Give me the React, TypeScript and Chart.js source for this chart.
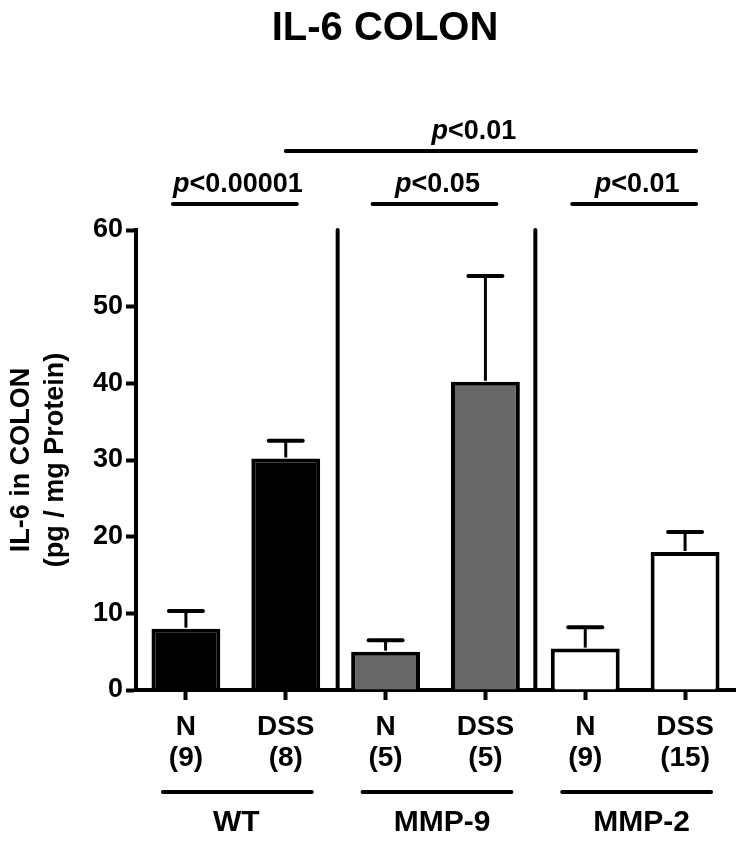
import React, { useEffect, useRef } from 'react';
import { Chart, registerables } from 'chart.js';

Chart.register(...registerables);

// ---- data ----
const chartTitle = 'IL-6 COLON';
const categoryLabels: string[][] = [
  ['N', '(9)'],
  ['DSS', '(8)'],
  ['N', '(5)'],
  ['DSS', '(5)'],
  ['N', '(9)'],
  ['DSS', '(15)'],
];
const means = [8.0, 30.2, 5.0, 40.2, 5.4, 18.0];
const sems = [2.3, 2.3, 1.5, 13.8, 2.8, 2.6];
const barColors = ['#000000', '#000000', '#686868', '#686868', '#ffffff', '#ffffff'];
const groupLabels = ['WT', 'MMP-9', 'MMP-2'];
const groupFirst = [0, 2, 4];
const groupLast = [1, 3, 5];
const sigTexts = ['<0.00001', '<0.05', '<0.01', '<0.01'];
const sigFrom = [0, 2, 4, 1];
const sigTo = [1, 3, 5, 5];
const sigRow = [0, 0, 0, 1];
const separatorsAt = [1.52, 3.5];
const yMin = 0;
const yMax = 60;
const yStep = 10;

const FONT = '"Liberation Sans", Arial, Helvetica, sans-serif';

const annotations = {
  id: 'annotations',
  afterDatasetsDraw(chart: any) {
    const ctx = chart.ctx as CanvasRenderingContext2D;
    const x = chart.scales.x;
    const y = chart.scales.y;
    const area = chart.chartArea;
    ctx.save();
    ctx.strokeStyle = '#000';
    ctx.fillStyle = '#000';

    // title
    ctx.font = `bold 40px ${FONT}`;
    ctx.textAlign = 'center';
    ctx.textBaseline = 'middle';
    ctx.fillText(chartTitle, 385, 29);

    // vertical separators
    ctx.lineWidth = 4;
    ctx.lineCap = 'round';
    separatorsAt.forEach((s) => {
      const px = x.getPixelForValue(s);
      ctx.beginPath();
      ctx.moveTo(px, y.getPixelForValue(yMax));
      ctx.lineTo(px, y.getPixelForValue(yMin));
      ctx.stroke();
    });

    // error bars
    const meta = chart.getDatasetMeta(0);
    meta.data.forEach((bar: any, i: number) => {
      const top = y.getPixelForValue(means[i]);
      const end = y.getPixelForValue(means[i] + sems[i]);
      ctx.lineCap = 'butt';
      ctx.lineWidth = 3;
      ctx.beginPath();
      ctx.moveTo(bar.x, top - 1);
      ctx.lineTo(bar.x, end);
      ctx.stroke();
      ctx.lineWidth = 4;
      ctx.lineCap = 'round';
      ctx.beginPath();
      ctx.moveTo(bar.x - 17, end);
      ctx.lineTo(bar.x + 17, end);
      ctx.stroke();
    });

    // significance lines
    ctx.lineWidth = 4;
    ctx.lineCap = 'round';
    sigTexts.forEach((t, i) => {
      const top = sigRow[i] === 1;
      const x1 = x.getPixelForValue(sigFrom[i]) - (top ? 0 : 13);
      const x2 = x.getPixelForValue(sigTo[i]) + 11;
      const ly = area.top - 26 - sigRow[i] * 53;
      ctx.beginPath();
      ctx.moveTo(x1, ly);
      ctx.lineTo(x2, ly);
      ctx.stroke();
      const pFont = `italic bold 27px ${FONT}`;
      const rFont = `bold 27px ${FONT}`;
      ctx.font = pFont;
      const wp = ctx.measureText('p').width;
      ctx.font = rFont;
      const wr = ctx.measureText(t).width;
      const cx = (x1 + x2) / 2 + (top ? -17 : 3);
      const start = cx - (wp + wr) / 2;
      ctx.textBaseline = 'alphabetic';
      ctx.textAlign = 'left';
      const ty = ly - 12;
      ctx.font = pFont;
      ctx.fillText('p', start, ty);
      ctx.font = rFont;
      ctx.fillText(t, start + wp, ty);
    });

    // group lines and labels
    groupLabels.forEach((g, i) => {
      const x1 = x.getPixelForValue(groupFirst[i]) - 23;
      const x2 = x.getPixelForValue(groupLast[i]) + 26;
      const ly = area.bottom + 102;
      ctx.lineWidth = 4;
      ctx.lineCap = 'round';
      ctx.beginPath();
      ctx.moveTo(x1, ly);
      ctx.lineTo(x2, ly);
      ctx.stroke();
      ctx.font = `bold 30px ${FONT}`;
      ctx.textAlign = 'center';
      ctx.textBaseline = 'middle';
      ctx.fillText(g, (x1 + x2) / 2 + (i === 0 ? -1 : 5), ly + 31);
    });
    ctx.restore();
  },
};

export default function App() {
  const ref = useRef<HTMLCanvasElement | null>(null);
  useEffect(() => {
    if (!ref.current) return;
    Chart.defaults.font.family = FONT;
    const chart = new Chart(ref.current, {
      type: 'bar',
      data: {
        labels: categoryLabels as any,
        datasets: [
          {
            data: means,
            backgroundColor: barColors,
            borderColor: '#000000',
            borderWidth: 4,
            barPercentage: 0.69,
            categoryPercentage: 1,
          },
        ],
      },
      options: {
        responsive: false,
        animation: false,
        events: [],
        layout: { padding: { left: 0, right: 15, top: 230, bottom: 0 } },
        plugins: {
          legend: { display: false },
          tooltip: { enabled: false },
          title: { display: false },
        },
        scales: {
          x: {
            offset: true,
            grid: {
              offset: false,
              drawOnChartArea: false,
              drawTicks: true,
              tickLength: 10,
              tickWidth: 4,
              tickColor: '#000',
            },
            border: { display: true, width: 4, color: '#000' },
            ticks: {
              color: '#000',
              font: { size: 28, weight: 'bold', family: FONT, lineHeight: 1.1 },
              padding: 12,
              maxRotation: 0,
              autoSkip: false,
            },
            afterFit: (s: any) => {
              s.height = 157;
            },
          },
          y: {
            min: yMin,
            max: yMax,
            grid: {
              drawOnChartArea: false,
              drawTicks: true,
              tickLength: 10,
              tickWidth: 4,
              tickColor: '#000',
            },
            border: { display: true, width: 4, color: '#000' },
            ticks: {
              stepSize: yStep,
              color: '#000',
              font: { size: 27, weight: 'bold', family: FONT },
              padding: 3,
            },
            title: {
              display: true,
              text: ['IL-6 in COLON', '(pg / mg Protein)'],
              color: '#000',
              font: { size: 27, weight: 'bold', family: FONT, lineHeight: 1.28 },
              padding: { top: 4, bottom: 0 },
            },
            afterFit: (s: any) => {
              s.width = 136;
            },
          },
        },
      },
      plugins: [annotations],
    });
    return () => chart.destroy();
  }, []);

  return (
    <div style={{ position: 'absolute', left: 0, top: 0, width: 750, height: 847, background: '#fff' }}>
      <canvas ref={ref} width={750} height={847} style={{ display: 'block' }} />
    </div>
  );
}
